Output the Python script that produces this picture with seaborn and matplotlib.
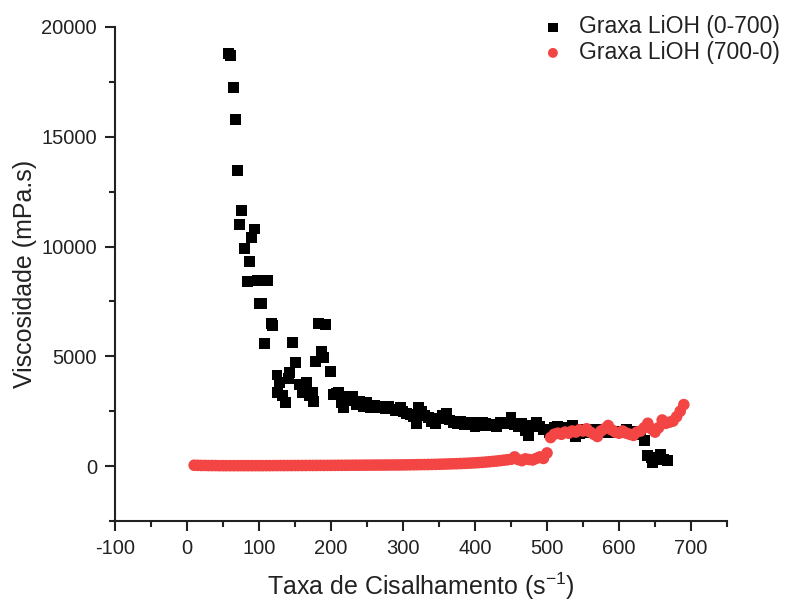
import matplotlib
matplotlib.use("Agg")
import matplotlib.pyplot as plt
import seaborn as sns
import pandas as pd
from matplotlib.ticker import MultipleLocator

# ---- data ----
up_rate = [57, 61, 64, 67, 70, 73, 76, 80, 84, 87, 90, 94, 98, 100, 104, 108, 112, 117, 119,
           125, 126, 129, 133, 137, 141, 143, 147, 151, 156, 161, 166, 170, 174, 176, 178,
           182, 187, 189, 193, 199, 203, 207, 210, 214, 217, 220, 225, 230, 235, 240, 245,
           250, 255, 260, 265, 270, 275, 280, 285, 290, 296, 300, 305, 310, 315, 319, 322,
           326, 330, 335, 340, 345, 350, 355, 360, 365, 370, 375, 380, 385, 390, 395, 400,
           405, 410, 415, 420, 425, 430, 435, 440, 445, 450, 455, 460, 465, 470, 474, 480,
           486, 490, 495, 500, 504, 510, 515, 520, 525, 530, 535, 540, 545, 550, 555, 560,
           565, 570, 575, 580, 585, 590, 595, 600, 605, 610, 615, 620, 625, 630, 636, 640,
           645, 647, 652, 657, 662, 667]
up_visc = [18800, 18700, 17250, 15800, 13450, 11000, 11650, 9900, 8400, 9300, 10400, 10800,
           8450, 7400, 7400, 5600, 8450, 6500, 6400, 4150, 3350, 3800, 3200, 2900, 4000, 4250,
           5650, 4700, 3700, 3350, 3800, 3200, 3350, 2950, 4750, 6500, 5200, 4950, 6450, 4300,
           3250, 3300, 3350, 2900, 2650, 3150, 3000, 3150, 2800, 2950, 2700, 2900, 2650, 2750,
           2700, 2650, 2600, 2700, 2600, 2550, 2650, 2500, 2400, 2350, 2250, 1950, 2650, 2500,
           2300, 2200, 2050, 1950, 2150, 2300, 2400, 2100, 2000, 1950, 2050, 1900, 1950, 2000,
           1800, 1850, 2000, 1950, 1850, 1900, 1800, 2000, 1950, 2000, 2200, 1900, 1800, 1950,
           1600, 1400, 1850, 2000, 1800, 1650, 1650, 1550, 1750, 1800, 1650, 1700, 1750, 1850,
           1350, 1500, 1650, 1600, 1550, 1650, 1600, 1650, 1600, 1550, 1600, 1550, 1550, 1600,
           1650, 1550, 1600, 1450, 1500, 1150, 500, 400, 150, 350, 550, 300, 250]

down_rate = [10, 15, 20, 25, 30, 35, 40, 45, 50, 55, 60, 65, 70, 75, 80, 85, 90, 95, 100,
             105, 110, 115, 120, 125, 130, 135, 140, 145, 150, 155, 160, 165, 170, 175, 180,
             185, 190, 195, 200, 205, 210, 215, 220, 225, 230, 235, 240, 245, 250, 255, 260,
             265, 270, 275, 280, 285, 290, 295, 300, 305, 310, 315, 320, 325, 330, 335, 340,
             345, 350, 355, 360, 365, 370, 375, 380, 385, 390, 395, 400, 405, 410, 415, 420,
             425, 430, 435, 440, 445, 450, 455, 460, 465, 470, 475, 480, 485, 490, 495, 500,
             505, 510, 515, 520, 525, 530, 535, 540, 545, 550, 555, 560, 565, 570, 575, 580,
             585, 590, 595, 600, 605, 610, 615, 620, 625, 630, 635, 640, 645, 650, 655, 660,
             665, 670, 675, 680, 685, 690]
down_visc = [40, 35, 30, 30, 25, 25, 25, 20, 20, 20, 20, 20, 20, 20, 20, 20, 20, 20, 20,
             20, 22, 22, 24, 24, 25, 25, 26, 26, 27, 28, 28, 29, 30, 30, 31, 32, 32, 33, 34,
             35, 36, 37, 38, 39, 40, 41, 42, 43, 44, 45, 46, 47, 48, 49, 50, 51, 52, 53, 55,
             57, 60, 62, 65, 68, 70, 73, 76, 80, 85, 90, 95, 100, 105, 110, 118, 125, 132, 140,
             150, 160, 170, 185, 200, 215, 230, 250, 270, 290, 310, 420, 300, 250, 330, 300,
             280, 350, 420, 350, 600,
             1300, 1450, 1500, 1450, 1550, 1500, 1600, 1550, 1650, 1600, 1700, 1550, 1450,
             1350, 1600, 1700, 1850, 1650, 1550, 1500, 1600, 1500, 1450, 1400, 1550, 1600,
             1750, 1950, 1700, 1550, 1750, 2100, 1950, 2000, 2050, 2250, 2500, 2800]

label_up = "Graxa LiOH (0-700)"
label_down = "Graxa LiOH (700-0)"

df_up = pd.DataFrame({"rate": up_rate, "visc": up_visc})
df_down = pd.DataFrame({"rate": down_rate, "visc": down_visc})

sns.set_style("ticks")
plt.rcParams["font.family"] = ["Liberation Sans", "DejaVu Sans"]
plt.rcParams["axes.unicode_minus"] = False
plt.rcParams["mathtext.default"] = "regular"

fig = plt.figure(figsize=(7.88, 6.03), dpi=100)
ax = fig.add_axes([115 / 788, 1 - 521 / 603, (727 - 115) / 788, (521 - 27) / 603])

sns.scatterplot(data=df_up, x="rate", y="visc", marker="s", color="black", s=62,
                edgecolor="none", linewidth=0, label=label_up, ax=ax, zorder=2)
sns.scatterplot(data=df_down, x="rate", y="visc", marker="o", color="#F44545", s=70,
                edgecolor="none", linewidth=0, label=label_down, ax=ax, zorder=3)

ax.set_xlim(-100, 750)
ax.set_ylim(-2500, 20000)
ax.set_xticks([-100, 0, 100, 200, 300, 400, 500, 600, 700])
ax.set_yticks([0, 5000, 10000, 15000, 20000])
ax.xaxis.set_minor_locator(MultipleLocator(50))
ax.yaxis.set_minor_locator(MultipleLocator(2500))

for side in ["top", "right"]:
    ax.spines[side].set_visible(False)
for side in ["left", "bottom"]:
    ax.spines[side].set_linewidth(1.5)
    ax.spines[side].set_color("#222222")

ax.tick_params(axis="both", which="major", direction="out", length=7, width=1.5,
               labelsize=14.5, colors="#222222", pad=6)
ax.tick_params(axis="both", which="minor", direction="out", length=4, width=1.5,
               colors="#222222")

ax.set_xlabel("Taxa de Cisalhamento (s$^{-1}$)", fontsize=18, color="#222222", labelpad=9)
ax.set_ylabel("Viscosidade (mPa.s)", fontsize=18, color="#222222")
ax.yaxis.set_label_coords((37 - 115) / 612, 0.5)

ax.legend_.remove()
h, l = ax.get_legend_handles_labels()
fig.legend(h, l, loc="upper left", bbox_to_anchor=(530 / 788, 1 - 6 / 603),
           frameon=False, fontsize=16.5, handletextpad=0.55, borderaxespad=0,
           labelspacing=0.12, markerscale=0.85, handlelength=1.2, labelcolor="#222222")

fig.savefig("out.png", dpi=100)
